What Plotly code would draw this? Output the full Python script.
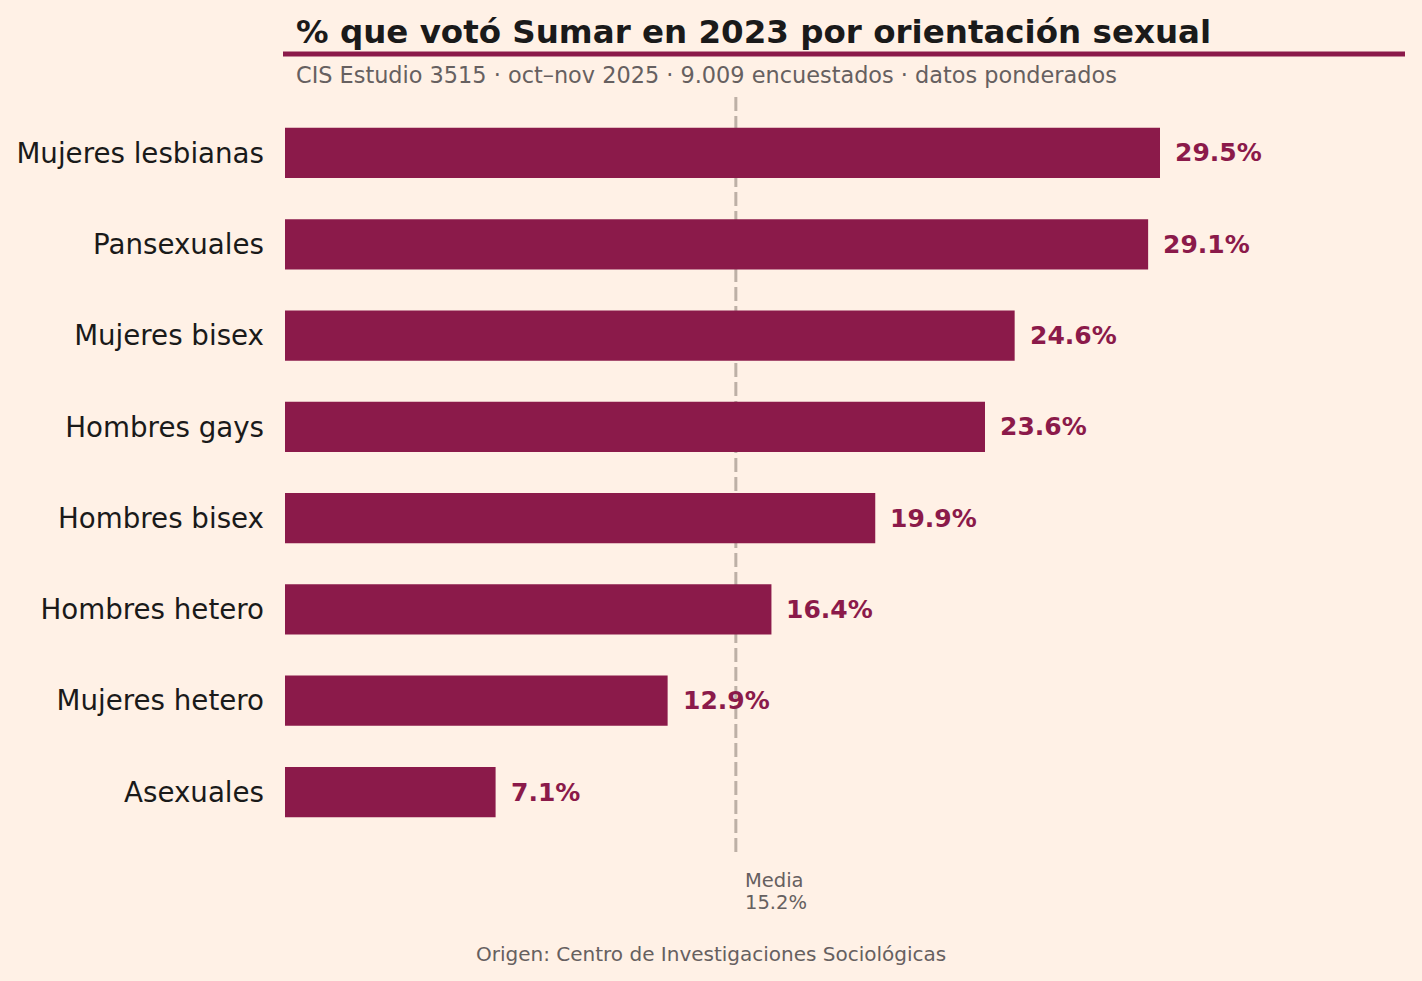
import plotly.graph_objects as go

categories = ["Asexuales", "Mujeres hetero", "Hombres hetero", "Hombres bisex",
              "Hombres gays", "Mujeres bisex", "Pansexuales", "Mujeres lesbianas"]
values = [7.1, 12.9, 16.4, 19.9, 23.6, 24.6, 29.1, 29.5]
media = 15.2

BG = "#FFF1E6"
BAR = "#8B1A4A"
FONT = "DejaVu Sans"

W, H = 1422, 981
L, R, T, B = 285, 17, 93, 129
PW = W - L - R
PH = H - T - B

def py(pix):
    return (H - B - pix) / PH

def px(pix):
    return (pix - L) / PW

xmax = max(values) * 1.28

fig = go.Figure()
fig.add_trace(go.Bar(
    x=values, y=categories, orientation="h",
    marker=dict(color=BAR, line=dict(width=0)),
    width=0.55,
    hoverinfo="skip",
))

for cat, v in zip(categories, values):
    fig.add_annotation(xref="x", yref="y", x=v, y=cat, xanchor="left", yanchor="middle",
                       xshift=13, showarrow=False, text=f"<b>{v:.1f}%</b>",
                       font=dict(family=FONT, size=25, color=BAR))

fig.add_shape(type="line", xref="x", yref="paper", x0=media, x1=media, y0=0, y1=1,
              line=dict(color="#BDB0A6", width=3, dash="14px,5px"), layer="below")

fig.add_shape(type="line", xref="paper", yref="paper", x0=px(283), x1=1,
              y0=py(54), y1=py(54), line=dict(color=BAR, width=5))

fig.add_annotation(xref="paper", yref="paper", x=px(294), y=py(32), xanchor="left",
                   yanchor="middle", showarrow=False,
                   text="<b>% que votó Sumar en 2023 por orientación sexual</b>",
                   font=dict(family=FONT, size=32.5, color="#1A1A1A"))
fig.add_annotation(xref="paper", yref="paper", x=px(294), y=py(75), xanchor="left",
                   yanchor="middle", showarrow=False,
                   text="CIS Estudio 3515 · oct–nov 2025 · 9.009 encuestados · datos ponderados",
                   font=dict(family=FONT, size=22.4, color="#666060"))
for i, line in enumerate(["Media", f"{media:.1f}%"]):
    fig.add_annotation(xref="x", yref="paper", x=media, y=py(880 + 22 * i), xanchor="left",
                       yanchor="middle", xshift=7, showarrow=False, align="left",
                       text=line, font=dict(family=FONT, size=19.5, color="#666060"))
fig.add_annotation(xref="paper", yref="paper", x=px(711), y=py(954), xanchor="center",
                   yanchor="middle", showarrow=False,
                   text="Origen: Centro de Investigaciones Sociológicas",
                   font=dict(family=FONT, size=20, color="#666060"))

fig.update_layout(
    width=W, height=H,
    margin=dict(l=L, r=R, t=T, b=B, autoexpand=False),
    paper_bgcolor=BG, plot_bgcolor=BG,
    showlegend=False,
    xaxis=dict(range=[0, xmax], visible=False, fixedrange=True),
    yaxis=dict(range=[-0.657, len(categories) - 1 + 0.657], showgrid=False,
               zeroline=False, showline=False, ticks="", ticklabelstandoff=20,
               tickfont=dict(family=FONT, size=27.7, color="#1A1A1A")),
)

fig.write_html("out.html")
